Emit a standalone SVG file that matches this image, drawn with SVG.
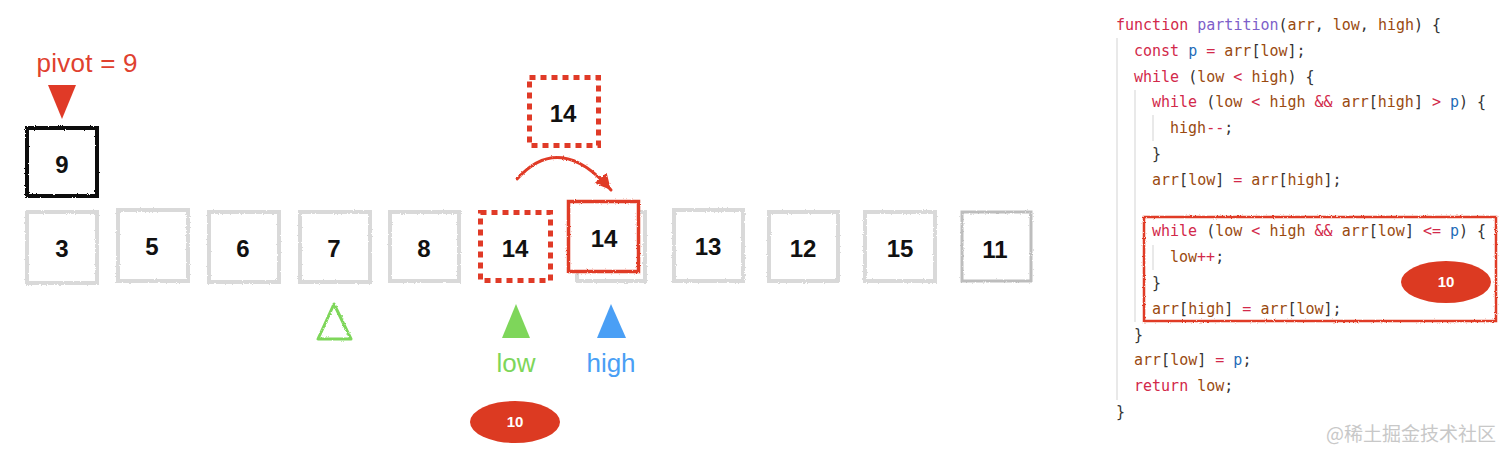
<svg xmlns="http://www.w3.org/2000/svg" width="1512" height="459" viewBox="0 0 1512 459">
<defs>
<filter id="rough" x="-10%" y="-10%" width="120%" height="120%">
<feTurbulence type="fractalNoise" baseFrequency="0.9" numOctaves="2" seed="3" result="n"/>
<feDisplacementMap in="SourceGraphic" in2="n" scale="2.5" xChannelSelector="R" yChannelSelector="G"/>
</filter>
<marker id="ah" markerUnits="userSpaceOnUse" markerWidth="18" markerHeight="18" refX="16" refY="9" orient="auto" viewBox="0 0 18 18">
<path d="M0,1 L16,9 L0,17 z" fill="#e03a27"/>
</marker>
<style>
.gbox{fill:#fff;stroke:#d9d9d9;stroke-width:4;filter:url(#rough)}
.dbox{fill:#fff;stroke:#e03a27;stroke-width:5;stroke-dasharray:6 5}
.num{font-family:"Liberation Sans",Arial,sans-serif;font-weight:bold;font-size:24px;fill:#111;text-anchor:middle}
.lbl{font-family:"Liberation Sans",Arial,sans-serif;font-size:26px;text-anchor:middle}
.badge{fill:#dc3a22}
.btxt{font-family:"Liberation Sans",Arial,sans-serif;font-weight:bold;font-size:15px;fill:#fff;text-anchor:middle}
.code{font-family:"DejaVu Sans Mono","Liberation Mono",monospace;font-size:15px;fill:#333;white-space:pre}
.k{fill:#d2294a}
.f{fill:#7d5fc9}
.i{fill:#9a4a10}
.p{fill:#1f6cb8}
.guide{stroke:#e2e2e2;stroke-width:1.5}
</style>
</defs>
<rect width="1512" height="459" fill="#fff"/>

<g id="pivot-label">
<text x="87" y="72" class="lbl" font-size="25" fill="#e0412f" textLength="101">pivot = 9</text>
<polygon points="48,85 76,85 62,119" fill="#e03a27"/>
</g>

<g id="pivot-box">
<rect x="27" y="128" width="70" height="68" fill="#fff" stroke="#111" stroke-width="4" filter="url(#rough)"/>
<text x="62" y="173" class="num">9</text>
</g>

<g id="box-3"><rect x="27" y="212" width="70" height="71" class="gbox"/><text x="62" y="257" class="num">3</text></g>
<g id="box-5"><rect x="118" y="210" width="70" height="71" class="gbox"/><text x="152" y="255" class="num">5</text></g>
<g id="box-6"><rect x="209" y="212" width="70" height="70" class="gbox"/><text x="243" y="257" class="num">6</text></g>
<g id="box-7"><rect x="300" y="212" width="70" height="70" class="gbox"/><text x="334" y="257" class="num">7</text></g>
<g id="box-8"><rect x="390" y="212" width="69" height="69" class="gbox"/><text x="424" y="257" class="num">8</text></g>
<g id="box-14-low"><rect x="480.5" y="212.5" width="70" height="68" class="dbox"/><text x="515" y="257" class="num">14</text></g>
<g id="box-high">
<rect x="577" y="212" width="68" height="69" class="gbox"/>
<rect x="568.5" y="201.5" width="70" height="70" fill="#fff" stroke="#e03a27" stroke-width="3.5" filter="url(#rough)"/>
<text x="604" y="247" class="num">14</text>
</g>
<g id="box-13"><rect x="674" y="210" width="69" height="71" class="gbox"/><text x="708" y="255" class="num">13</text></g>
<g id="box-12"><rect x="769" y="212" width="69" height="69" class="gbox"/><text x="803" y="257" class="num">12</text></g>
<g id="box-15"><rect x="865" y="212" width="70" height="69" class="gbox"/><text x="900" y="257" class="num">15</text></g>
<g id="box-11"><rect x="962" y="212" width="69" height="69" class="gbox" style="stroke:#bdbdbd;stroke-width:3"/><text x="995" y="258" class="num">11</text></g>

<g id="box-14-temp"><rect x="529.5" y="77.5" width="69" height="68" class="dbox"/><text x="563" y="122" class="num">14</text></g>

<g id="connectors">
<path d="M517,179 Q560,131 611,190" fill="none" stroke="#e03a27" stroke-width="3" stroke-linecap="round" marker-end="url(#ah)" filter="url(#rough)"/>
</g>

<g id="pointer-prev">
<polygon points="334,304 318,339 351,339" fill="none" stroke="#7ed65a" stroke-width="3" stroke-linejoin="round" filter="url(#rough)"/>
</g>
<g id="pointer-low">
<polygon points="516,304 502,338 530,338" fill="#7ed65a"/>
<text x="516" y="372" class="lbl" fill="#7ed65a">low</text>
</g>
<g id="pointer-high">
<polygon points="611,304 597,338 626,338" fill="#4a9ff5"/>
<text x="611" y="372" class="lbl" fill="#4a9ff5">high</text>
</g>

<g id="badge-left">
<ellipse cx="515" cy="422" rx="45" ry="21" class="badge"/>
<text x="515" y="427" class="btxt">10</text>
</g>

<g id="divider">
<line x1="1079" y1="0" x2="1079" y2="459" stroke="#111" stroke-width="2.5" filter="url(#rough)"/>
</g>

<g id="code">
<line x1="1117" y1="38" x2="1117" y2="400" class="guide"/>
<line x1="1135" y1="90" x2="1135" y2="322" class="guide"/>
<line x1="1153" y1="115" x2="1153" y2="141" class="guide"/>
<line x1="1153" y1="245" x2="1153" y2="270" class="guide"/>
<text class="code" x="1116" y="30"><tspan class="k">function</tspan> <tspan class="f">partition</tspan>(<tspan class="i">arr</tspan>, <tspan class="i">low</tspan>, <tspan class="i">high</tspan>) {</text>
<text class="code" x="1134" y="55.8"><tspan class="k">const</tspan> <tspan class="p">p</tspan> <tspan class="k">=</tspan> <tspan class="i">arr</tspan>[<tspan class="i">low</tspan>];</text>
<text class="code" x="1134" y="81.6"><tspan class="k">while</tspan> (<tspan class="i">low</tspan> <tspan class="k">&lt;</tspan> <tspan class="i">high</tspan>) {</text>
<text class="code" x="1152" y="107.4"><tspan class="k">while</tspan> (<tspan class="i">low</tspan> <tspan class="k">&lt;</tspan> <tspan class="i">high</tspan> <tspan class="k">&amp;&amp;</tspan> <tspan class="i">arr</tspan>[<tspan class="i">high</tspan>] <tspan class="k">&gt;</tspan> <tspan class="p">p</tspan>) {</text>
<text class="code" x="1170" y="133.2"><tspan class="i">high</tspan><tspan class="k">--</tspan>;</text>
<text class="code" x="1152" y="159">}</text>
<text class="code" x="1152" y="184.8"><tspan class="i">arr</tspan>[<tspan class="i">low</tspan>] <tspan class="k">=</tspan> <tspan class="i">arr</tspan>[<tspan class="i">high</tspan>];</text>
<text class="code" x="1152" y="236.4"><tspan class="k">while</tspan> (<tspan class="i">low</tspan> <tspan class="k">&lt;</tspan> <tspan class="i">high</tspan> <tspan class="k">&amp;&amp;</tspan> <tspan class="i">arr</tspan>[<tspan class="i">low</tspan>] <tspan class="k">&lt;=</tspan> <tspan class="p">p</tspan>) {</text>
<text class="code" x="1170" y="262.2"><tspan class="i">low</tspan><tspan class="k">++</tspan>;</text>
<text class="code" x="1152" y="288">}</text>
<text class="code" x="1152" y="313.8"><tspan class="i">arr</tspan>[<tspan class="i">high</tspan>] <tspan class="k">=</tspan> <tspan class="i">arr</tspan>[<tspan class="i">low</tspan>];</text>
<text class="code" x="1134" y="339.6">}</text>
<text class="code" x="1134" y="365.4"><tspan class="i">arr</tspan>[<tspan class="i">low</tspan>] <tspan class="k">=</tspan> <tspan class="p">p</tspan>;</text>
<text class="code" x="1134" y="391.2"><tspan class="k">return</tspan> <tspan class="i">low</tspan>;</text>
<text class="code" x="1116" y="417">}</text>
</g>

<g id="highlight-box">
<rect x="1144" y="217" width="352" height="104" fill="none" stroke="#e03a27" stroke-width="2.5" filter="url(#rough)"/>
</g>

<g id="badge-right">
<ellipse cx="1446" cy="282" rx="45" ry="21" class="badge"/>
<text x="1446" y="287" class="btxt">10</text>
</g>

<text x="1496" y="441" font-family="'Noto Sans CJK SC',sans-serif" font-size="19" fill="#c8c8c8" text-anchor="end">@稀土掘金技术社区</text>
</svg>
